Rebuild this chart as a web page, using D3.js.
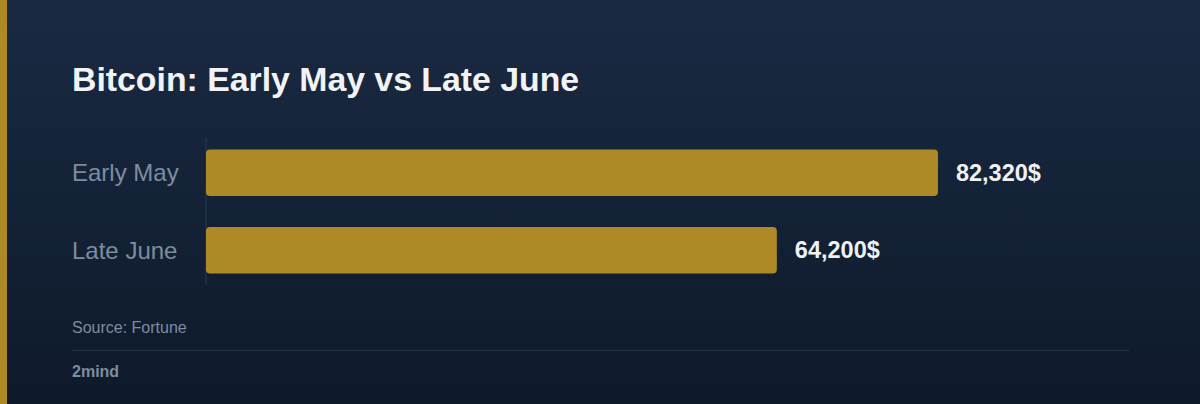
<!DOCTYPE html>
<html>
<head>
<meta charset="utf-8">
<script src="https://cdn.jsdelivr.net/npm/d3@7"></script>
<style>
  html, body { margin: 0; padding: 0; background: #111d30; }
  svg { display: block; font-family: "Liberation Sans", Arial, sans-serif; }
</style>
</head>
<body>
<svg id="chart"></svg>
<script>
// DATA
var categories = ["Early May", "Late June"];
var prices = [82320, 64200];
var titleText = "Bitcoin: Early May vs Late June";
var sourceText = "Source: Fortune";
var brandText = "2mind";

// SIZING
var width = 1200;
var height = 404;
var left = 72;
var plotLeft = 206;
var plotRight = 1129;

var svg = d3.select("#chart")
	.attr("width", width)
	.attr("height", height);

// background gradient
var defs = svg.append("defs");
var grad = defs.append("linearGradient")
	.attr("id", "bg")
	.attr("x1", 0).attr("y1", 0)
	.attr("x2", 0).attr("y2", 1);
grad.append("stop").attr("offset", "0%").attr("stop-color", "#1a2a43");
grad.append("stop").attr("offset", "100%").attr("stop-color", "#0e1a2a");

svg.append("rect")
	.attr("width", width)
	.attr("height", height)
	.attr("fill", "url(#bg)");

// gold stripe on the left
svg.append("rect")
	.attr("width", 7)
	.attr("height", height)
	.attr("fill", "#ad8a25");

// title
svg.append("text")
	.attr("x", left)
	.attr("y", 91)
	.attr("fill", "#f1f3f6")
	.attr("font-size", 33.8)
	.attr("font-weight", "bold")
	.text(titleText);

// scales
var x = d3.scaleLinear()
	.domain([0, d3.max(prices) * 1.261])
	.range([plotLeft, plotRight]);

var y = d3.scaleBand()
	.domain(categories)
	.range([138, 285])
	.paddingInner(0.4)
	.paddingOuter(0.15);

// axis line
svg.append("line")
	.attr("x1", plotLeft).attr("x2", plotLeft)
	.attr("y1", y.range()[0]).attr("y2", y.range()[1])
	.attr("stroke", "#2a3a50")
	.attr("stroke-width", 1);

// bars
svg.selectAll("rect.bar")
	.data(prices)
	.enter()
	.append("rect")
	.attr("class", "bar")
	.attr("x", x(0))
	.attr("y", (d, i) => y(categories[i]))
	.attr("width", d => x(d) - x(0))
	.attr("height", y.bandwidth())
	.attr("rx", 4)
	.attr("fill", "#ad8a25");

// category labels
svg.selectAll("text.cat")
	.data(categories)
	.enter()
	.append("text")
	.attr("class", "cat")
	.attr("x", left)
	.attr("y", d => y(d) + y.bandwidth() / 2)
	.attr("dy", "0.35em")
	.attr("fill", "#7d8ca0")
	.attr("font-size", 24)
	.text(d => d);

// value labels
var fmt = d3.format(",");
svg.selectAll("text.val")
	.data(prices)
	.enter()
	.append("text")
	.attr("class", "val")
	.attr("x", d => x(d) + 18)
	.attr("y", (d, i) => y(categories[i]) + y.bandwidth() / 2)
	.attr("dy", "0.35em")
	.attr("fill", "#eef1f5")
	.attr("font-size", 23.5)
	.attr("font-weight", "bold")
	.text(d => fmt(d) + "$");

// source
svg.append("text")
	.attr("x", left)
	.attr("y", 333)
	.attr("fill", "#7d8ca0")
	.attr("font-size", 16)
	.text(sourceText);

// divider
svg.append("line")
	.attr("x1", left).attr("x2", plotRight)
	.attr("y1", 350.5).attr("y2", 350.5)
	.attr("stroke", "#283546")
	.attr("stroke-width", 1);

// brand
svg.append("text")
	.attr("x", left)
	.attr("y", 377)
	.attr("fill", "#7d8ca0")
	.attr("font-size", 16)
	.attr("font-weight", "bold")
	.text(brandText);
</script>
</body>
</html>
